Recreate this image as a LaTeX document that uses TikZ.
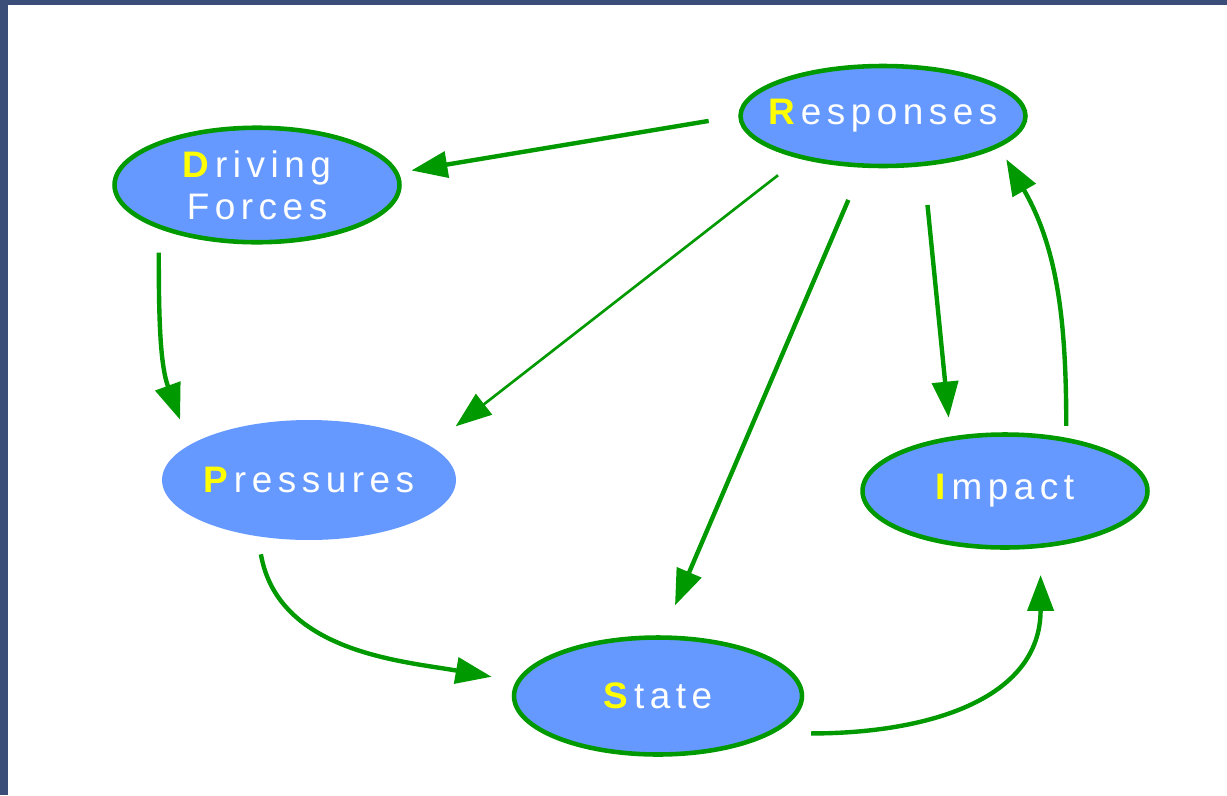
\documentclass[tikz,border=0pt]{standalone}
\usepackage{fontspec}
\setmainfont{Liberation Sans}[LetterSpace=15]
\usepackage{tikz}
\usetikzlibrary{shapes,shapes.geometric,arrows.meta}
\definecolor{nodeblue}{HTML}{6699FF}
\definecolor{edgegreen}{HTML}{009900}
\definecolor{framecol}{HTML}{3B4E7A}
\definecolor{initial}{HTML}{FFFF00}
\tikzstyle{stage} = [ellipse, draw=edgegreen, line width=2.6pt, fill=nodeblue, text=white, inner xsep=-0.5cm, align=center, font={\fontsize{21}{24}\selectfont}]
\tikzstyle{stagenoline} = [stage, draw=none]
\tikzstyle{flow} = [draw=edgegreen, line width=2.5pt, -{Triangle[length=0.72cm,width=0.52cm]}]
\tikzstyle{thinflow} = [flow, line width=1.5pt]
\newcommand{\first}[1]{\textcolor{initial}{\textbf{#1}}}

\begin{document}
\begin{tikzpicture}[x=0.02cm, y=-0.02cm]
	% frame
	\useasboundingbox (0,0) rectangle (1227,795);
	\fill [white] (0,0) rectangle (1227,795);
	\fill [framecol] (0,0) rectangle (1227,5);
	\fill [framecol] (0,0) rectangle (8,795);

	% place nodes
	\node [stage, minimum width=5.7cm, minimum height=2.22cm]        (drive)  at (257,185) {\first{D}riving\\Forces};
	\node [stage, minimum width=5.7cm, minimum height=2.0cm]         (resp)   at (883,116) {\first{R}esponses};
	\node [stagenoline, minimum width=5.88cm, minimum height=2.4cm]  (pres)   at (309,480) {\first{P}ressures};
	\node [stage, minimum width=5.7cm, minimum height=2.26cm]        (impact) at (1005,491) {\first{I}mpact};
	\node [stage, minimum width=5.76cm, minimum height=2.34cm]       (state)  at (658,696) {\first{S}tate};

	% draw edges
	\path [flow, shorten <=0.6cm, shorten >=0.26cm] (resp.west) -- (drive.5);
	\path [flow, shorten <=0.48cm, shorten >=0.5cm] (drive.204) to[out=-90, in=110] (pres.163);
	\path [thinflow, shorten <=0.54cm, shorten >=0.6cm] (resp.207) -- (pres.16);
	\path [flow, shorten <=0.7cm, shorten >=0.65cm] (resp.248) -- (state.86);
	\path [flow, shorten <=0.78cm, shorten >=0.38cm] (resp.309) -- (impact.135);
	\path [flow, shorten <=0.24cm, shorten >=0.28cm] (impact.41) to[out=90, in=-60] (resp.345);
	\path [flow, shorten <=0.32cm, shorten >=0.5cm] (pres.229) to[out=-80, in=170] (state.174);
	\path [flow, shorten <=0.76cm, shorten >=0.54cm] (state.-18) to[out=0, in=-90, looseness=1.2] (impact.302);
\end{tikzpicture}
\end{document}
